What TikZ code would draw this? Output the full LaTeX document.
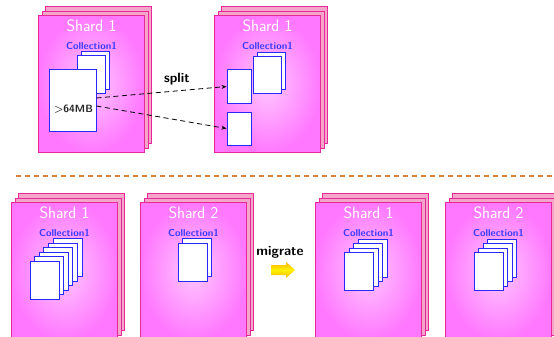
\documentclass[tikz,border=0pt]{standalone}
\usetikzlibrary{shapes.arrows,arrows.meta}
\definecolor{deeppink}{RGB}{232,40,150}
\definecolor{backpink}{RGB}{244,166,202}
\definecolor{shardin}{RGB}{255,200,255}
\definecolor{shardout}{RGB}{255,120,255}
\definecolor{pageblue}{RGB}{40,40,255}
\definecolor{colblue}{RGB}{60,60,255}
\definecolor{sepcol}{RGB}{210,130,60}
\definecolor{arrowyel}{RGB}{255,242,0}
\definecolor{arroworg}{RGB}{255,180,0}
\newcommand\mkshard[4]{%
  \node[shardback] (#1b2) at ({#2+7.2},{#3-8.6}) {};
  \node[shardback] (#1b1) at ({#2+3.6},{#3-4.3}) {};
  \node[shardfront] (#1) at (#2,#3) {};
  \node[shardtitle] (#1t) at ([yshift=-11pt]#1.north) {#4};
  \node[colltitle] (#1c) at ([yshift=-31pt]#1.north) {Collection1};
}
\newcommand\mkpages[6]{% name, maxindex, cx, cy, step, extra style
  \foreach \i in {#2,...,0} {
    \node[page,#6] (#1\i) at ({#3+#5*\i},{#4-#5*\i}) {};
  }
}
\begin{document}
\begin{tikzpicture}[x=1pt,y=-1pt,
  shardback/.style={draw=deeppink, fill=backpink, line width=0.9pt,
    minimum width=106pt, minimum height=137pt, anchor=north west, inner sep=0pt},
  shardfront/.style={draw=deeppink, inner color=shardin, outer color=shardout,
    line width=0.9pt, minimum width=106pt, minimum height=137pt,
    anchor=north west, inner sep=0pt},
  shardtitle/.style={text=white, font=\sffamily\fontsize{16.5}{16.5}\selectfont,
    inner sep=0pt},
  colltitle/.style={text=colblue, font=\sffamily\bfseries\fontsize{10}{10}\selectfont,
    inner sep=0pt},
  page/.style={draw=pageblue, fill=white, line width=1pt, minimum width=29pt,
    minimum height=38pt, inner sep=0pt},
  smallpage/.style={minimum width=28pt, minimum height=37pt},
  splitpage/.style={page, minimum width=24pt, minimum height=33pt},
  actionlabel/.style={font=\sffamily\bfseries\fontsize{13.5}{13.5}\selectfont, inner sep=0pt},
  splitarrow/.style={dash pattern=on 5pt off 3.5pt, line width=0.8pt,
    -{Stealth[length=5pt,width=4pt]}}
]
\useasboundingbox (0,0) rectangle (554,337);

% ---- top: split ----
\mkshard{ta}{38}{15}{Shard 1}
\mkshard{tb}{214}{15}{Shard 1}

\mkpages{tap}{1}{91.5}{74.5}{4}{smallpage}
\node[page, minimum width=47pt, minimum height=61pt] (big) at (72.5,100.5) {};
\node[font=\sffamily\bfseries\fontsize{10.5}{10.5}\selectfont, inner sep=0pt,
  text=black!85] (bigt) at (73.5,109) {>64MB};

\mkpages{tbp}{1}{267}{75}{4}{smallpage}
\node[splitpage] (sp1) at (239,86.5) {};
\node[splitpage] (sp2) at (239,128.5) {};

\draw[splitarrow] ([yshift=2.5pt]big.east) -- (sp1.west);
\draw[splitarrow] ([yshift=-5.5pt]big.east) -- (sp2.west);
\node[actionlabel] (split) at (177,79) {split};

% ---- separator ----
\draw[sepcol, dash pattern=on 5pt off 4pt, line width=1.1pt] (16,176) -- (554,176);

% ---- bottom: migrate ----
\mkshard{ba}{11}{202}{Shard 1}
\mkshard{bb}{140}{202}{Shard 2}
\mkshard{bc}{315}{202}{Shard 1}
\mkshard{bd}{445}{202}{Shard 2}

\mkpages{bap}{5}{44.5}{280.5}{4.6}{}
\mkpages{bbp}{1}{192.5}{262}{4.6}{}
\mkpages{bcp}{3}{359}{271.5}{4.5}{}
\mkpages{bdp}{3}{488.5}{271.5}{4.5}{}

\node[actionlabel] (migrate) at (280,252) {migrate};
\shade[top color=arroworg, bottom color=arroworg, middle color=arrowyel]
  (271,265) -- (286,265) -- (286,262) -- (295,270) -- (286,278) -- (286,275)
  -- (271,275) -- cycle;
\end{tikzpicture}
\end{document}
